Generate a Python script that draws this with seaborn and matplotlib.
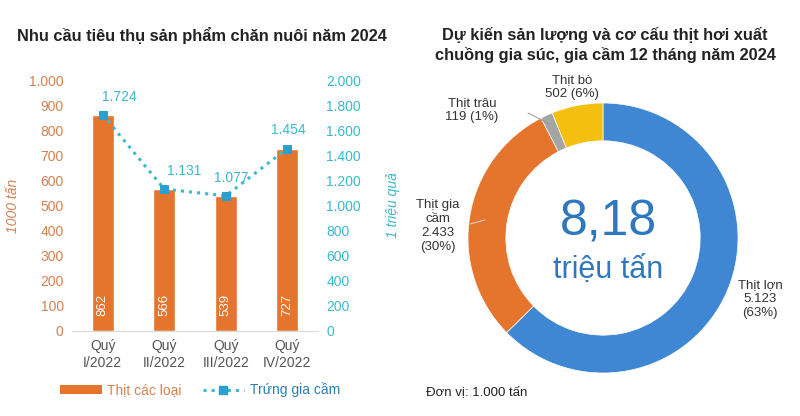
import numpy as np
import pandas as pd
import matplotlib
matplotlib.use("Agg")
import matplotlib.pyplot as plt
import seaborn as sns
from matplotlib.lines import Line2D
from matplotlib.patches import Patch

# Du lieu
quarters = ["Quý\nI/2022", "Quý\nII/2022", "Quý\nIII/2022", "Quý\nIV/2022"]
meat = [862, 566, 539, 727]          # 1000 tan
eggs = [1724, 1131, 1077, 1454]      # trieu qua
egg_labels = ["1.724", "1.131", "1.077", "1.454"]

pie_names = ["Thịt lợn", "Thịt gia cầm", "Thịt trâu", "Thịt bò"]
pie_values = [5123, 2433, 119, 502]

ORANGE = "#e5742c"
ORANGE_TXT = "#d4824f"
CYAN = "#3bb9cf"
BLUE = "#3f87d2"

sns.set_style("white")
plt.rcParams['font.family'] = ['Liberation Sans', 'DejaVu Sans']

fig = plt.figure(figsize=(8, 4.16), dpi=100)

# ---- Bieu do cot + duong ----
ax = fig.add_axes([72 / 800, 1 - 331 / 416, 246 / 800, 251 / 416])
df = pd.DataFrame({"quy": quarters, "thit": meat})
sns.barplot(data=df, x="quy", y="thit", color=ORANGE, width=0.36,
            saturation=1, ax=ax)
ax.set_xlim(-0.5, 3.5)
ax.set_ylim(0, 1000)
ax.set_yticks(range(0, 1001, 100))
ax.set_yticklabels([f"{v:,}".replace(",", ".") for v in range(0, 1001, 100)])
ax.tick_params(axis="y", colors=ORANGE_TXT, labelsize=10, length=0, pad=6)
ax.tick_params(axis="x", colors="#555555", labelsize=10, length=0, pad=6)
ax.set_xlabel("")
ax.set_ylabel("1000 tấn", color=ORANGE_TXT, style="italic", fontsize=10)
ax.yaxis.set_label_coords((20 - 72) / 246, 0.5)
for s in ["top", "right", "left"]:
    ax.spines[s].set_visible(False)
ax.spines["bottom"].set_color("#d9d9d9")

for i, v in enumerate(meat):
    ax.text(i, 105, str(v), rotation=90, color="white", ha="center",
            va="center", fontsize=9.5)

ax2 = ax.twinx()
sns.lineplot(x=np.arange(4), y=eggs, ax=ax2, color=CYAN, linestyle=":",
             linewidth=2.2, marker="s", markersize=6, markeredgecolor="#2a9fd0",
             markerfacecolor="#2a9fd0")
ax2.set_ylim(0, 2000)
ax2.set_yticks(range(0, 2001, 200))
ax2.set_yticklabels([f"{v:,}".replace(",", ".") for v in range(0, 2001, 200)])
ax2.tick_params(axis="y", colors=CYAN, labelsize=10, length=0, pad=6)
ax2.set_ylabel("1 triệu quả", color=CYAN, style="italic", fontsize=10, rotation=90)
ax2.yaxis.set_label_coords((386 - 72) / 246, 0.5)
for s in ["top", "right", "left", "bottom"]:
    ax2.spines[s].set_visible(False)

offsets = [(12, 8), (14, 8), (4, 8), (1, 8)]
for i, (v, lab) in enumerate(zip(eggs, egg_labels)):
    ax2.annotate(lab, (i, v), xytext=offsets[i], textcoords="offset points",
                 ha="center", va="bottom", color=CYAN, fontsize=10)

handles = [Patch(facecolor=ORANGE, edgecolor="none"),
           Line2D([], [], color=CYAN, linestyle=":", linewidth=2.2, marker="s",
                  markersize=6, markerfacecolor="#2a9fd0", markeredgecolor="#2a9fd0")]
leg = fig.legend(handles, ["Thịt các loại", "Trứng gia cầm"], loc="center",
                 bbox_to_anchor=(200 / 800, 1 - 390 / 416), ncol=2, frameon=False,
                 fontsize=10, handlelength=3, handleheight=0.6, handletextpad=0.4,
                 columnspacing=1.5)
leg.get_texts()[0].set_color(ORANGE_TXT)
leg.get_texts()[1].set_color("#2a7fb0")

fig.text(202 / 800, 1 - 35 / 416, "Nhu cầu tiêu thụ sản phẩm chăn nuôi năm 2024",
         ha="center", va="center", fontsize=11.8, fontweight="bold", color="#222222")

# ---- Bieu do donut ----
axp = fig.add_axes([468 / 800, 1 - 373 / 416, 270 / 800, 270 / 416])
axp.pie(pie_values, colors=[BLUE, ORANGE, "#a5a5a5", "#f5bf0f"], startangle=90,
        counterclock=False, radius=1,
        wedgeprops=dict(width=0.28, edgecolor="white", linewidth=0.5))
axp.set_xlim(-1, 1)
axp.set_ylim(-1, 1)

fig.text(605 / 800, 1 - 45 / 416,
         "Dự kiến sản lượng và cơ cấu thịt hơi xuất\nchuồng gia súc, gia cầm 12 tháng năm 2024",
         ha="center", va="center", fontsize=11.8, fontweight="bold",
         color="#222222", linespacing=1.3)

fig.text(608 / 800, 1 - 223 / 416, "8,18", ha="center", va="center",
         fontsize=36, color="#2f78c0")
fig.text(608 / 800, 1 - 270 / 416, "triệu tấn", ha="center", va="center",
         fontsize=22, color="#2f78c0")

lab_kw = dict(ha="center", va="center", fontsize=9.5, color="#333333", linespacing=1.2)
fig.text(572 / 800, 1 - 87 / 416, "Thịt bò\n502 (6%)", **lab_kw)
fig.text(472 / 800, 1 - 110 / 416, "Thịt trâu\n119 (1%)", **lab_kw)
fig.text(438 / 800, 1 - 226 / 416, "Thịt gia\ncầm\n2.433\n(30%)", **lab_kw)
fig.text(760 / 800, 1 - 299 / 416, "Thịt lợn\n5.123\n(63%)", **lab_kw)
fig.add_artist(Line2D([528 / 800, 550 / 800], [1 - 113 / 416, 1 - 124 / 416],
                      color="#999999", linewidth=0.7))
fig.add_artist(Line2D([470 / 800, 485 / 800], [1 - 224 / 416, 1 - 220 / 416],
                      color="#dddddd", linewidth=0.7))

fig.text(426 / 800, 1 - 392 / 416, "Đơn vị: 1.000 tấn", ha="left", va="center",
         fontsize=9.5, color="#222222")

fig.savefig("out.png", dpi=100)
